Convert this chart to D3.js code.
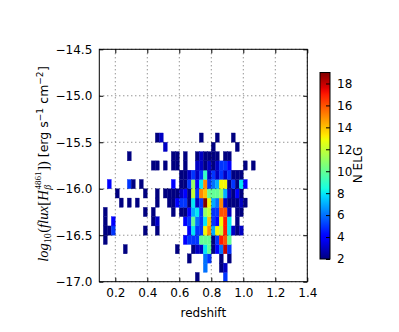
<!DOCTYPE html>
<html><head><meta charset="utf-8">
<script src="https://cdn.jsdelivr.net/npm/d3@7"></script>
<style>body{margin:0;background:#fff} text{white-space:pre}</style>
</head><body><svg id="c" width="399" height="332"></svg>
<script>
// redshift bin left edges (bin width 0.025)
const zBins = [0.100,0.125,0.150,0.175,0.200,0.225,0.250,0.275,0.300,0.325,
               0.350,0.375,0.400,0.425,0.450,0.475,0.500,0.525,0.550,0.575,
               0.600,0.625,0.650,0.675,0.700,0.725,0.750,0.775,0.800,0.825,
               0.850,0.875,0.900,0.925,0.950,0.975,1.000,1.025,1.050];
const zBinWidth = 0.025;
// log flux bin lower edges (bin width 0.1)
const fluxBins = [-17.0,-16.9,-16.8,-16.7,-16.6,-16.5,-16.4,-16.3,-16.2,-16.1,-16.0,-15.9,-15.8,-15.7,-15.6,-15.5];
const fluxBinWidth = 0.1;
// counts[fluxIndex][zIndex], 0 = empty
const counts = [
 [0,0,0,0,0,0,0,0,0,0, 0,0,0,0,0,0,0,0,0,0, 0,0,0,0,2,0,0,0,0,0, 0,5,0,0,0,0,0,0,0],
 [0,0,0,0,0,0,0,0,0,0, 0,0,0,0,0,0,0,0,0,0, 0,0,0,0,0,0,6,0,0,0, 2,3,0,0,0,0,0,0,0],
 [0,0,0,0,0,0,0,0,0,0, 0,0,0,0,0,0,0,0,0,0, 0,0,2,0,0,0,6,5,0,0, 2,0,2,0,0,0,0,0,0],
 [0,0,0,0,0,0,2,0,0,0, 0,0,0,0,0,0,0,0,0,2, 0,0,0,2,3,3,8,10,2,4, 6,18,5,0,0,0,0,0,0],
 [0,2,0,0,0,0,0,0,0,0, 0,0,0,0,0,0,0,0,0,0, 0,4,5,5,5,10,10,10,2,5, 17,16,10,0,0,0,0,0,0],
 [0,2,2,5,0,0,0,0,0,0, 0,2,0,0,2,0,0,0,0,0, 0,0,4,8,5,5,13,15,7,13, 12,17,8,3,2,3,0,0,0],
 [0,2,0,4,0,0,0,0,0,0, 0,0,0,2,3,0,0,0,0,0, 0,4,5,10,6,5,8,14,5,4, 13,17,8,0,2,0,0,0,0],
 [0,2,0,0,0,0,0,0,0,0, 0,2,0,2,0,0,0,0,2,0, 2,2,4,7,8,5,11,12,5,5, 16,16,3,0,2,2,0,0,0],
 [0,0,0,0,0,2,0,2,0,2, 0,0,0,0,2,0,0,2,2,4, 5,5,2,8,3,5,19,13,7,6, 15,3,2,2,2,3,2,0,0],
 [0,0,0,0,2,0,0,0,0,0, 0,2,0,0,2,0,2,2,2,2, 3,4,2,12,5,15,14,10,10,10, 11,7,3,2,4,2,0,0,0],
 [0,0,4,0,0,0,0,5,2,0, 2,0,0,0,0,0,0,0,4,0, 2,2,5,11,4,8,15,5,6,7, 13,13,2,5,2,8,4,0,0],
 [0,0,0,0,0,0,0,0,0,0, 0,0,0,0,0,0,0,0,0,0, 2,2,3,5,3,5,9,3,5,3, 5,3,5,2,2,2,0,0,0],
 [0,0,0,0,0,0,0,0,0,0, 0,0,0,2,2,0,2,0,2,2, 0,2,0,0,3,3,2,3,2,3, 5,5,4,0,0,0,2,0,2],
 [0,0,0,0,0,0,0,2,0,0, 0,0,0,0,0,0,0,0,2,2, 0,2,0,0,2,3,2,2,2,2, 0,2,2,0,0,0,0,0,0],
 [0,0,0,0,0,0,0,0,0,0, 0,0,0,0,0,0,3,0,0,0, 0,0,0,0,0,0,0,0,2,0, 0,0,0,0,2,0,0,0,0],
 [0,0,0,0,0,0,0,0,0,0, 0,0,0,0,2,3,0,0,0,0, 0,0,0,0,0,2,0,0,0,2, 0,0,0,2,0,0,0,0,0]
];
const xTicks = [0.2,0.4,0.6,0.8,1.0,1.2,1.4];
const yTicks = [-17.0,-16.5,-16.0,-15.5,-15.0,-14.5];
const cbTicks = [2,4,6,8,10,12,14,16,18];
const cbDomain = [2,19];

function jet(t){
  t=Math.max(0,Math.min(1,t));
  const seg=(pts)=>{for(let i=1;i<pts.length;i++){if(t<=pts[i][0]){const [x0,y0]=pts[i-1],[x1,y1]=pts[i];return y0+(y1-y0)*(t-x0)/(x1-x0);}}return pts[pts.length-1][1];};
  const r=seg([[0,0],[0.35,0],[0.66,1],[0.89,1],[1,0.5]]);
  const g=seg([[0,0],[0.125,0],[0.375,1],[0.64,1],[0.91,0],[1,0]]);
  const b=seg([[0,0.5],[0.11,1],[0.34,1],[0.65,0],[1,0]]);
  return d3.rgb(r*255,g*255,b*255).toString();
}

const svg = d3.select("#c");
const L=99.3, R=307.3, T=49.3, B=281.7;
const x = d3.scaleLinear().domain([0.1,1.4]).range([L,R]);
const y = d3.scaleLinear().domain([-17.0,-14.5]).range([B,T]);
const color = d3.scaleSequential(jet).domain(cbDomain);
const font = "'DejaVu Sans', sans-serif";

// cells
const cells = [];
counts.forEach((row,i)=>row.forEach((v,j)=>{ if(v>0) cells.push({z:zBins[j], f:fluxBins[i], v}); }));
svg.append("g").selectAll("rect").data(cells).join("rect")
  .attr("x", d=>x(d.z)).attr("width", d=>x(d.z+zBinWidth)-x(d.z))
  .attr("y", d=>y(d.f+fluxBinWidth)).attr("height", d=>y(d.f)-y(d.f+fluxBinWidth))
  .attr("fill", d=>color(d.v)).attr("stroke", d=>color(d.v)).attr("stroke-width",0.3);

// grid
const grid = svg.append("g").attr("stroke","#000").attr("stroke-width",0.6).attr("stroke-dasharray","1,3");
xTicks.forEach(t=>grid.append("line").attr("x1",x(t)).attr("x2",x(t)).attr("y1",T).attr("y2",B));
yTicks.forEach(t=>grid.append("line").attr("y1",y(t)).attr("y2",y(t)).attr("x1",L).attr("x2",R));

// axes (inward ticks on all sides)
const axB = d3.axisBottom(x).tickValues(xTicks).tickFormat(d3.format(".1f")).tickSizeInner(-4).tickSizeOuter(0).tickPadding(7);
const axT = d3.axisTop(x).tickValues(xTicks).tickFormat("").tickSizeInner(-4).tickSizeOuter(0);
const axL = d3.axisLeft(y).tickValues(yTicks).tickFormat(d3.format(".1f")).tickSizeInner(-4).tickSizeOuter(0).tickPadding(7);
const axR = d3.axisRight(y).tickValues(yTicks).tickFormat("").tickSizeInner(-4).tickSizeOuter(0);
function style(g){ g.select(".domain").remove(); g.selectAll("text").attr("font-family",font).attr("font-size",12).attr("fill","#000"); g.selectAll("line").attr("stroke","#000"); }
svg.append("g").attr("transform",`translate(0,${B})`).call(axB).call(style);
svg.append("g").attr("transform",`translate(0,${T})`).call(axT).call(style);
svg.append("g").attr("transform",`translate(${L},0)`).call(axL).call(style);
svg.append("g").attr("transform",`translate(${R},0)`).call(axR).call(style);
svg.append("rect").attr("x",L).attr("y",T).attr("width",R-L).attr("height",B-T).attr("fill","none").attr("stroke","#000").attr("stroke-width",1);

// x title
svg.append("text").attr("x",(L+R)/2).attr("y",317).attr("text-anchor","middle")
  .attr("font-family",font).attr("font-size",12).text("redshift");

// y title (mathtext + text)
const yl = svg.append("g").attr("transform","translate(47.5,164) rotate(-90)");
let cx = 0;
const serif = "'Liberation Serif', 'DejaVu Serif', serif";
function piece(txt, opts){
  const t = yl.append("text").attr("x", cx + (opts.dx||0)).attr("y", opts.dy||0)
    .attr("font-family", opts.fam||serif).attr("font-size", opts.size||14.5)
    .attr("font-style", opts.italic?"italic":"normal").text(txt);
  const w = t.node().getComputedTextLength();
  if(!opts.noadv) cx += w + (opts.dx||0) + (opts.after||0);
  return w;
}
piece("log",{italic:true});
piece("10",{size:10,dy:3,after:0.5});
piece("(",{});
piece("flux",{italic:true,after:0.5});
piece("[",{});
piece("H",{italic:true});
const w1 = piece("4861",{size:9,dy:-6.5,noadv:true, dx:0.8});
piece("β",{size:10,italic:true,dy:3.5,noadv:true, dx:0.5});
cx += w1 + 1.5;
piece("])",{});
piece(" [erg s",{fam:font,size:12.5});
piece("−1",{fam:font,size:9,dy:-5,after:0.3});
piece(" cm",{fam:font,size:12.5});
piece("−2",{fam:font,size:9,dy:-5,after:0.3});
piece("]",{fam:font,size:12.5});
yl.selectAll("text").attr("transform",`translate(${-cx/2},0)`);

// colorbar
const cbX=320, cbW=10, cbT=72.5, cbB=259;
const cy = d3.scaleLinear().domain(cbDomain).range([cbB,cbT]);
const defs = svg.append("defs");
const grad = defs.append("linearGradient").attr("id","jetg").attr("x1",0).attr("y1",1).attr("x2",0).attr("y2",0);
d3.range(0,1.0001,0.02).forEach(t=>grad.append("stop").attr("offset",t).attr("stop-color",jet(t)));
svg.append("rect").attr("x",cbX).attr("y",cbT).attr("width",cbW).attr("height",cbB-cbT).attr("fill","url(#jetg)");
const axC = d3.axisRight(cy).tickValues(cbTicks).tickFormat(d3.format("d")).tickSizeInner(-4).tickSizeOuter(0).tickPadding(7);
svg.append("g").attr("transform",`translate(${cbX+cbW},0)`).call(axC).call(style);
svg.append("rect").attr("x",cbX).attr("y",cbT).attr("width",cbW).attr("height",cbB-cbT).attr("fill","none").attr("stroke","#000").attr("stroke-width",1);
svg.append("text").attr("transform",`translate(362,165) rotate(-90)`).attr("text-anchor","middle")
  .attr("font-family",font).attr("font-size",12).text("N ELG");
</script>
</body></html>
